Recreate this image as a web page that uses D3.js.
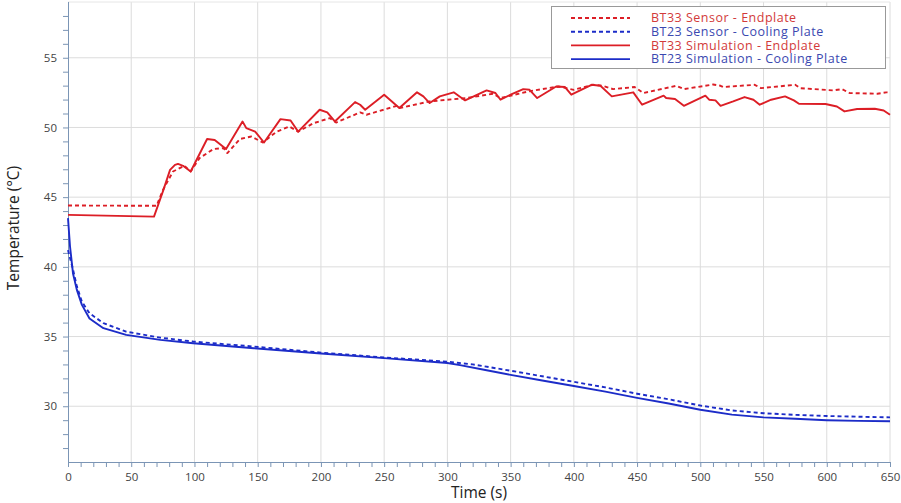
<!DOCTYPE html>
<html>
<head>
<meta charset="utf-8">
<script src="https://cdn.jsdelivr.net/npm/d3@7"></script>
<style>
  html, body { margin: 0; padding: 0; background: #fff; }
  svg { display: block; font-family: "Open Sans", "Noto Sans", sans-serif; }
</style>
</head>
<body>
<svg id="chart" width="901" height="503"></svg>
<script>
// Endplate (BT33) and cooling plate (BT23) temperatures, sensor vs simulation
const sensorEndTime = [0, 70, 75, 83, 92, 97, 104, 115, 123, 126, 136, 145, 154, 165, 175, 182, 194, 207, 212, 231, 236, 260, 262, 286, 315, 336, 342, 365, 388, 400, 415, 423, 431, 448, 455, 481, 487, 510, 516, 518, 543, 548, 575, 579, 605, 612, 618, 640, 647, 650];
const sensorEndTemp = [44.4, 44.38, 45.5, 46.84, 47.25, 46.84, 47.8, 48.45, 48.52, 48.16, 49.17, 49.35, 48.92, 49.7, 50.07, 49.7, 50.3, 50.67, 50.35, 51.08, 50.91, 51.55, 51.39, 51.87, 52.11, 52.42, 52.11, 52.6, 52.94, 52.7, 53.06, 52.99, 52.75, 52.9, 52.47, 52.99, 52.75, 53.08, 52.99, 52.9, 53.06, 52.82, 53.06, 52.82, 52.66, 52.75, 52.47, 52.42, 52.52, 52.5];

const simEndTime = [0, 68, 75.4, 80.7, 84.6, 87, 91, 97, 110, 116, 125, 138, 141, 148, 155, 168, 176, 182, 199, 205, 211, 227, 231, 235, 250, 262, 276, 281, 286, 294, 305, 314, 331, 338, 342, 350, 360, 365, 371, 386, 393, 398, 414, 421, 430, 447, 454, 471, 473, 480, 487, 504, 507, 512, 516, 526, 535, 542, 547, 556, 567, 574, 578, 599, 608, 614, 624, 638, 645, 650];
const simEndTemp = [43.73, 43.6, 45.5, 46.96, 47.32, 47.39, 47.25, 46.84, 49.17, 49.1, 48.45, 50.43, 49.95, 49.7, 48.92, 50.6, 50.5, 49.7, 51.27, 51.08, 50.43, 51.82, 51.63, 51.27, 52.35, 51.39, 52.52, 52.23, 51.75, 52.23, 52.52, 51.94, 52.66, 52.47, 51.99, 52.35, 52.75, 52.7, 52.11, 52.94, 52.9, 52.35, 53.06, 52.99, 52.23, 52.52, 51.63, 52.28, 52.11, 52.04, 51.55, 52.28, 51.99, 51.94, 51.55, 51.87, 52.18, 51.99, 51.63, 51.99, 52.23, 51.94, 51.7, 51.68, 51.5, 51.15, 51.32, 51.34, 51.22, 50.91];

const sensorCoolTime = [0, 4, 7, 11, 17, 28, 46, 73, 99, 147, 200, 250, 300, 320, 350, 375, 400, 425, 450, 475, 500, 525, 550, 575, 600, 625, 650];
const sensorCoolTemp = [41.2, 39.8, 38.6, 37.5, 36.67, 35.96, 35.35, 34.92, 34.64, 34.28, 33.85, 33.5, 33.2, 33.0, 32.55, 32.15, 31.75, 31.35, 30.9, 30.5, 30.05, 29.7, 29.5, 29.38, 29.3, 29.25, 29.2];

const simCoolTime = [0, 1.6, 4, 7, 11, 17, 28, 46, 73, 99, 147, 200, 250, 300, 310, 330, 350, 375, 400, 425, 450, 475, 500, 525, 550, 575, 600, 625, 650];
const simCoolTemp = [43.5, 41.46, 39.5, 38.35, 37.27, 36.3, 35.6, 35.12, 34.76, 34.52, 34.16, 33.78, 33.45, 33.1, 32.95, 32.6, 32.25, 31.85, 31.45, 31.05, 30.6, 30.2, 29.75, 29.4, 29.2, 29.1, 29.0, 28.95, 28.92];

const seriesNames = ["BT33 Sensor - Endplate", "BT23 Sensor - Cooling Plate", "BT33 Simulation - Endplate", "BT23 Simulation - Cooling Plate"];
const xTicks = [0, 50, 100, 150, 200, 250, 300, 350, 400, 450, 500, 550, 600, 650];
const yTicks = [30, 35, 40, 45, 50, 55];

const RED = "#dc1e26", BLUE = "#1c2cc8";
const series = [
  { name: seriesNames[0], t: sensorEndTime, v: sensorEndTemp, color: RED, dash: "4,3", text: "#d23a3a" },
  { name: seriesNames[1], t: sensorCoolTime, v: sensorCoolTemp, color: BLUE, dash: "4,3", text: "#3a48b0" },
  { name: seriesNames[2], t: simEndTime, v: simEndTemp, color: RED, dash: null, text: "#d23a3a" },
  { name: seriesNames[3], t: simCoolTime, v: simCoolTemp, color: BLUE, dash: null, text: "#3a48b0" }
];

const svg = d3.select("#chart");
const plotLeft = 68, plotRight = 890, plotTop = 2, plotBottom = 462;
const x = d3.scaleLinear().domain([0, 650]).range([plotLeft, plotRight]);
const y = d3.scaleLinear().domain([26, 59]).range([plotBottom, plotTop]);
const axisColor = "#7b95b5", gridColor = "#dcdcdc";

// grid
const grid = svg.append("g");
grid.selectAll("line.v").data(xTicks.filter(d => d > 0)).join("line")
  .attr("x1", d => x(d)).attr("x2", d => x(d)).attr("y1", plotTop).attr("y2", plotBottom)
  .attr("stroke", gridColor).attr("stroke-width", 1);
grid.selectAll("line.h").data(yTicks).join("line")
  .attr("x1", plotLeft).attr("x2", plotRight).attr("y1", d => y(d)).attr("y2", d => y(d))
  .attr("stroke", gridColor).attr("stroke-width", 1);
grid.append("line").attr("x1", plotLeft).attr("x2", plotRight).attr("y1", plotTop).attr("y2", plotTop)
  .attr("stroke", "#e6e6e6");

// axes
const xAxis = d3.axisBottom(x).tickValues(d3.range(0, 651, 10)).tickSize(5)
  .tickFormat(d => xTicks.includes(d) ? d : "");
const gx = svg.append("g").attr("transform", `translate(0,${plotBottom})`).call(xAxis);
gx.select(".domain").attr("stroke", axisColor).attr("d", `M${plotLeft},0.5H${plotRight}`);
gx.selectAll(".tick line").attr("stroke", axisColor);
gx.selectAll(".tick text").attr("fill", "#444").attr("font-size", 11.5)
  .attr("font-family", "'Open Sans', sans-serif").attr("dy", "0.95em");

const yAxis = d3.axisLeft(y).tickValues(d3.range(27, 59, 1)).tickSize(5)
  .tickFormat(d => yTicks.includes(d) ? d : "");
const gy = svg.append("g").attr("transform", `translate(${plotLeft},0)`).call(yAxis);
gy.select(".domain").attr("stroke", axisColor).attr("d", `M0.5,${plotTop}V${plotBottom}`);
gy.selectAll(".tick line").attr("stroke", axisColor);
gy.selectAll(".tick text").attr("fill", "#444").attr("font-size", 11.5)
  .attr("font-family", "'Open Sans', sans-serif").attr("x", -11);

// axis titles
svg.append("text").attr("x", 479).attr("y", 498).attr("text-anchor", "middle")
  .attr("font-size", 15.5).attr("fill", "#222").text("Time (s)");
svg.append("text").attr("transform", "translate(19,228) rotate(-90)").attr("text-anchor", "middle")
  .attr("font-size", 15.5).attr("fill", "#222").text("Temperature (°C)");

// lines
const line = d3.line().x(d => x(d[0])).y(d => y(d[1]));
const plot = svg.append("g");
series.forEach(s => {
  plot.append("path")
    .datum(s.t.map((t, i) => [t, s.v[i]]))
    .attr("d", line)
    .attr("fill", "none")
    .attr("stroke", s.color)
    .attr("stroke-width", 1.9)
    .attr("stroke-linejoin", "round")
    .attr("stroke-dasharray", s.dash);
});

// legend
const lg = svg.append("g");
lg.append("rect").attr("x", 551.5).attr("y", 6.5).attr("width", 334).attr("height", 62)
  .attr("fill", "#fff").attr("stroke", "#999").attr("stroke-width", 1);
series.forEach((s, i) => {
  const yy = 18 + i * 13.7;
  lg.append("line").attr("x1", 571).attr("x2", 630).attr("y1", yy).attr("y2", yy)
    .attr("stroke", s.color).attr("stroke-width", 1.9).attr("stroke-dasharray", s.dash);
  lg.append("text").attr("x", 651).attr("y", yy).attr("dy", "0.35em")
    .attr("font-size", 12.5).attr("letter-spacing", 0.5).attr("fill", s.text).text(s.name);
});
</script>
</body>
</html>
